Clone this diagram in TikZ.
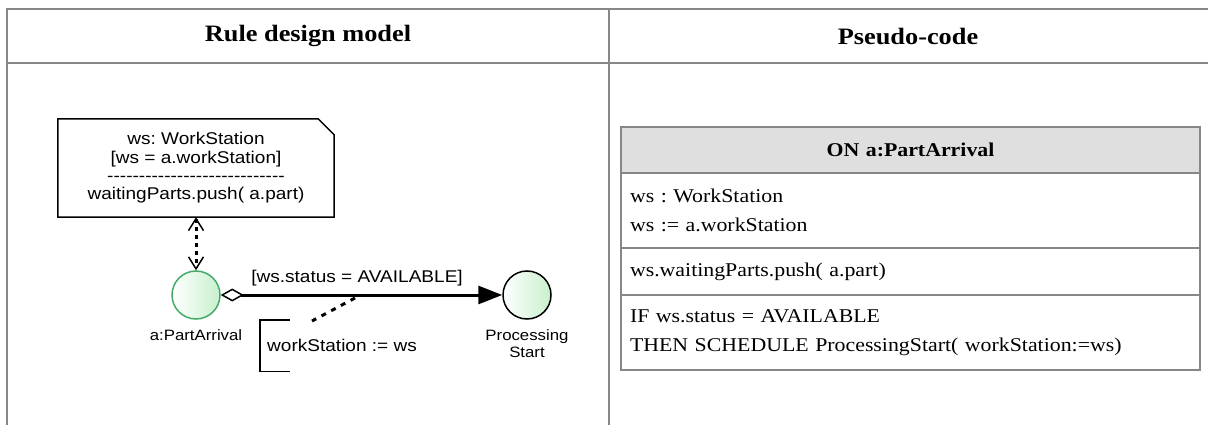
\documentclass[tikz,border=0pt]{standalone}
\usepackage{fontspec}
\setmainfont{Liberation Serif}[FakeStretch=1.12]
\newfontfamily\umlfont{Liberation Sans}[FakeStretch=1.12]
\usepackage{tikz}
\usetikzlibrary{positioning, arrows.meta}
\tikzset{>=latex}
\usepackage{xcolor}
\definecolor{evgreen}{RGB}{70,170,105}
\definecolor{evfill}{RGB}{200,240,205}
\definecolor{tblgray}{RGB}{135,135,135}
\newcommand{\notedashes}{\foreach \k in {1,...,28}{-}}
\frenchspacing

\begin{document}
\begin{tikzpicture}[x=1pt,y=-1pt,
  tbl/.style={draw=tblgray,line width=1.6pt},
  hdr/.style={font=\fontsize{23.5}{28}\selectfont\bfseries},
  umltext/.style={font=\umlfont\fontsize{17}{18.3}\selectfont,inner sep=0pt,align=center},
  evlabel/.style={font=\umlfont\fontsize{15}{17}\selectfont,inner sep=0pt,align=center},
  event/.style={circle,minimum size=48pt,inner sep=0pt,line width=1.5pt,left color=white,right color=evfill},
  pcrow/.style={draw=tblgray,line width=1.4pt,outer sep=0pt,text width=561pt,inner xsep=9pt,align=left,font=\fontsize{19.5}{29.5}\selectfont}
  ]
\useasboundingbox (0,0) rectangle (1208,425);
\draw[tbl] (1212,9) -- (7,9) -- (7,430);
\draw[tbl] (7,63) -- (1212,63);
\draw[tbl] (609,9) -- (609,430);
\node[hdr] (hdrModel) at (308,36) {Rule design model};
\node[hdr] (hdrCode) at (908,36) {Pseudo-code};

\node[umltext, minimum width=276pt, minimum height=98pt] (noteBox) at (196,168)
  {ws: WorkStation\\ {[ws = a.workStation]}\\ \notedashes\\ waitingParts.push( a.part)};
\draw[line width=1.5pt] (noteBox.north west) -- ([xshift=-16pt]noteBox.north east)
  -- ([yshift=-16pt]noteBox.north east) -- (noteBox.south east) -- (noteBox.south west) -- cycle;

\node[event, draw=evgreen] (evArrival) at (196,295) {};
\node[event, draw=black] (evStart) at (527,295) {};
\node[evlabel, below=10pt of evArrival] (lblArrival) {a:PartArrival};
\node[evlabel, below=10pt of evStart] (lblStart) {Processing\\Start};

\draw[line width=3pt, dash pattern=on 4pt off 4pt,
  {Straight Barb[length=12pt,width=15pt,line width=1.5pt]}-{Straight Barb[length=12pt,width=15pt,line width=1.5pt]}]
  (noteBox.south) -- (evArrival.north);
\draw[line width=3pt, {Diamond[open,length=23pt,width=13pt,line width=1.5pt]}-{Triangle[length=24pt,width=18pt]}]
  (evArrival) -- (evStart);

\node[umltext] (guard) at (357,278) {[ws.status = AVAILABLE]};
\node[umltext, anchor=north west, minimum height=51pt, inner xsep=7pt] (assign) at (260,320) {workStation := ws};
\draw[line width=1.5pt] ([xshift=30pt]assign.north west) -- (assign.north west)
  -- (assign.south west) -- ([xshift=30pt]assign.south west);
\coordinate (guardFoot) at (355,298);
\coordinate (assignTop) at (312,321);
\draw[line width=3pt, dash pattern=on 5pt off 6pt] (guardFoot) -- (assignTop);

\node[pcrow, fill=gray!25, anchor=north west, minimum height=46pt, align=center,
  font=\fontsize{19.5}{29.5}\selectfont\bfseries] (pcHead) at (621,127) {ON a:PartArrival};
\node[pcrow, minimum height=75pt, below=0pt of pcHead] (pcDecl) {ws : WorkStation\\ ws := a.workStation};
\node[pcrow, minimum height=47pt, below=0pt of pcDecl] (pcPush) {ws.waitingParts.push( a.part)};
\node[pcrow, minimum height=75pt, below=0pt of pcPush] (pcIf)
  {IF ws.status = AVAILABLE\\ THEN SCHEDULE ProcessingStart( workStation:=ws)};
\end{tikzpicture}
\end{document}
